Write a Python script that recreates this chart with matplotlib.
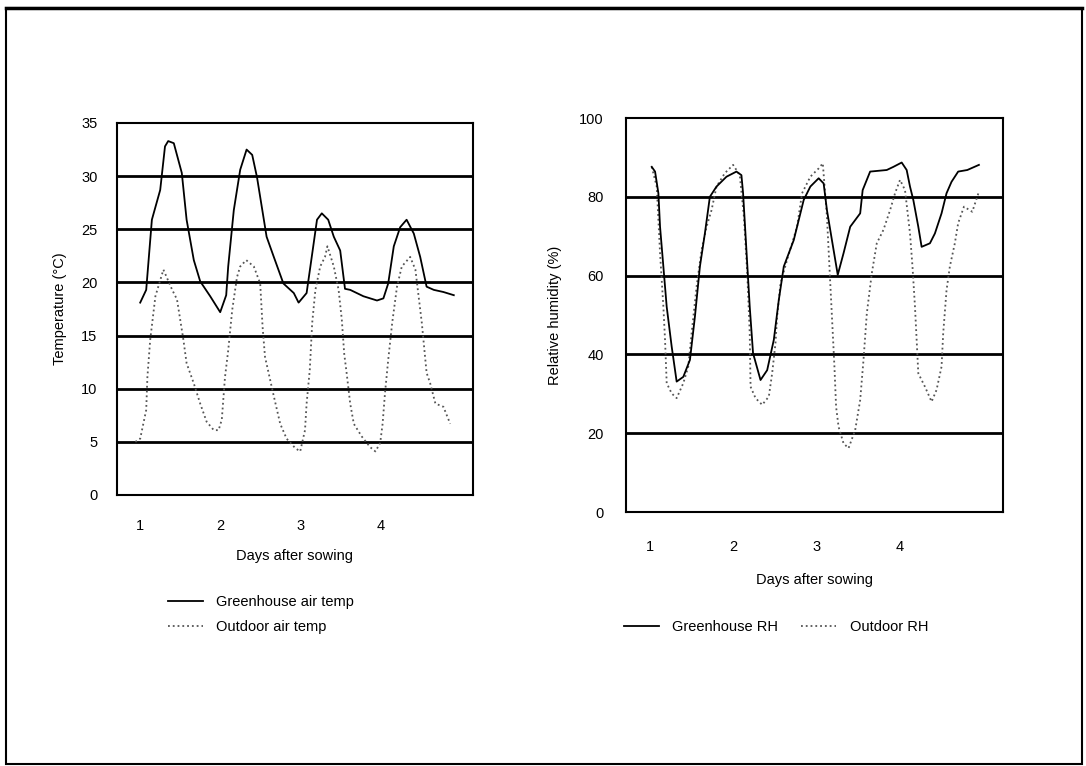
import matplotlib
matplotlib.use('Agg')
import matplotlib.pyplot as plt
from matplotlib.patches import Rectangle

plt.rcParams['font.family'] = ['Liberation Sans', 'DejaVu Sans']

# Temperatura (dias apos semeadura, graus C)
dia_temp_estufa = [1.0, 1.075, 1.146, 1.25, 1.31, 1.35, 1.42, 1.52, 1.58, 1.67, 1.75, 1.875,
                   2.0, 2.075, 2.10, 2.17, 2.25, 2.33, 2.40, 2.46, 2.58, 2.67, 2.79, 2.92, 2.98,
                   3.08, 3.15, 3.21, 3.27, 3.35, 3.42, 3.5, 3.56, 3.625, 3.79, 3.96,
                   4.04, 4.10, 4.17, 4.25, 4.33, 4.42, 4.5, 4.58, 4.67, 4.79, 4.92]
temp_estufa = [18.1, 19.3, 25.9, 28.7, 32.8, 33.3, 33.1, 30.3, 25.9, 22.1, 20.1, 18.7,
               17.2, 18.8, 21.5, 26.8, 30.6, 32.5, 32.0, 29.9, 24.3, 22.4, 19.9, 19.0, 18.1,
               19.0, 22.7, 25.9, 26.5, 25.9, 24.3, 23.0, 19.4, 19.3, 18.7, 18.3,
               18.5, 19.9, 23.4, 25.2, 25.9, 24.6, 22.4, 19.6, 19.3, 19.1, 18.8]

dia_temp_fora = [0.94, 1.0, 1.075, 1.09, 1.125, 1.19, 1.29, 1.40, 1.46, 1.5, 1.54, 1.58, 1.67,
                 1.75, 1.83, 1.92, 1.98, 2.02, 2.06, 2.10, 2.15, 2.21, 2.25, 2.325, 2.42, 2.5,
                 2.53, 2.56, 2.67, 2.75, 2.83, 2.94, 3.0, 3.06, 3.08, 3.12, 3.15, 3.19, 3.25,
                 3.31, 3.34, 3.42, 3.48, 3.52, 3.55, 3.58, 3.625, 3.67, 3.77, 3.875, 3.94,
                 4.0, 4.03, 4.06, 4.10, 4.15, 4.21, 4.27, 4.375, 4.44, 4.52, 4.58, 4.625,
                 4.69, 4.79, 4.875]
temp_fora = [5.0, 5.3, 8.0, 11.1, 14.6, 18.7, 21.2, 19.3, 18.4, 16.5, 14.6, 12.4, 10.5,
             8.6, 6.9, 6.1, 6.1, 7.1, 11.1, 13.6, 17.4, 20.5, 21.5, 22.1, 21.5, 19.9,
             15.8, 13.0, 9.3, 6.7, 5.3, 4.4, 4.1, 6.1, 8.6, 11.8, 16.2, 19.3, 21.5,
             22.4, 23.4, 21.5, 19.3, 16.5, 13.3, 11.5, 8.6, 6.7, 5.5, 4.5, 4.1,
             4.9, 6.7, 9.6, 12.7, 16.2, 19.6, 21.5, 22.4, 21.2, 16.2, 11.5, 10.5,
             8.6, 8.3, 6.7]

# Umidade relativa (%)
dia_ur_estufa = [1.02, 1.06, 1.10, 1.12, 1.16, 1.20, 1.26, 1.32, 1.40, 1.48, 1.54, 1.60, 1.66,
                 1.72, 1.80, 1.92, 2.04, 2.10, 2.12, 2.16, 2.20, 2.24, 2.33, 2.41, 2.49, 2.55,
                 2.61, 2.73, 2.85, 2.93, 3.03, 3.09, 3.13, 3.19, 3.26, 3.33, 3.41, 3.53, 3.56,
                 3.65, 3.85, 3.93, 4.03, 4.09, 4.13, 4.17, 4.23, 4.27, 4.37, 4.43, 4.51, 4.57,
                 4.63, 4.71, 4.82, 4.96]
ur_estufa = [87.6, 86.4, 80.9, 72.4, 62.3, 52.1, 42.0, 33.1, 34.3, 38.6, 49.6, 62.3, 70.7,
             80.0, 82.6, 85.1, 86.4, 85.5, 80.9, 66.5, 52.1, 40.3, 33.5, 36.0, 43.7, 53.8,
             62.3, 69.0, 79.2, 82.6, 84.7, 83.4, 76.6, 69.0, 60.2, 65.7, 72.4, 75.8, 81.7,
             86.4, 86.8, 87.6, 88.7, 86.8, 82.6, 79.2, 72.4, 67.3, 68.2, 70.7, 75.8, 80.9,
             83.8, 86.4, 86.8, 88.1]

dia_ur_fora = [1.02, 1.08, 1.12, 1.16, 1.18, 1.20, 1.26, 1.32, 1.40, 1.46, 1.50, 1.56, 1.62,
               1.68, 1.74, 1.80, 1.90, 2.00, 2.08, 2.13, 2.17, 2.20, 2.21, 2.27, 2.35, 2.43,
               2.47, 2.51, 2.53, 2.57, 2.65, 2.77, 2.83, 2.93, 3.03, 3.08, 3.13, 3.17, 3.20,
               3.22, 3.24, 3.27, 3.33, 3.39, 3.47, 3.53, 3.57, 3.61, 3.67, 3.73, 3.81, 3.89,
               3.95, 4.01, 4.07, 4.13, 4.16, 4.19, 4.21, 4.23, 4.31, 4.39, 4.45, 4.51, 4.53,
               4.57, 4.61, 4.67, 4.71, 4.78, 4.88, 4.96]
ur_fora = [87.6, 82.6, 65.7, 52.1, 43.7, 32.7, 30.1, 28.9, 32.7, 36.9, 45.4, 57.2, 66.5,
           72.4, 76.6, 82.6, 86.0, 88.1, 85.5, 74.9, 60.6, 45.4, 31.8, 28.9, 27.2, 29.3,
           35.2, 42.8, 49.6, 58.0, 64.0, 72.4, 80.9, 85.1, 87.2, 88.5, 74.9, 58.0, 45.4,
           36.9, 26.7, 21.6, 17.4, 16.2, 20.8, 28.4, 38.6, 50.4, 60.6, 68.2, 71.6, 76.6,
           80.9, 84.3, 81.7, 70.7, 62.3, 52.1, 43.7, 35.2, 31.8, 28.0, 31.0, 36.9, 45.4,
           56.3, 62.3, 68.2, 73.3, 77.5, 76.2, 81.3]

dias = [1, 2, 3, 4]
grade_temp = [5, 10, 15, 20, 25, 30]
grade_ur = [20, 40, 60, 80]

fig = plt.figure(figsize=(10.86, 7.66), dpi=100)
fig.patch.set_facecolor('white')

# moldura externa da figura
fig.add_artist(Rectangle((6 / 1086, 2 / 766), 1076 / 1086, 756 / 766, transform=fig.transFigure,
                         fill=False, edgecolor='black', linewidth=1.5))
fig.add_artist(plt.Line2D([6 / 1086, 1082 / 1086], [758 / 766, 758 / 766], transform=fig.transFigure,
                          color='black', linewidth=2.5))

# --- grafico de temperatura ---
ax1 = fig.add_axes([117 / 1086, 1 - 495 / 766, 356 / 1086, 372 / 766])
for g in grade_temp:
    ax1.axhline(g, color='black', linewidth=2, zorder=1)
ax1.plot(dia_temp_estufa, temp_estufa, color='black', linewidth=1.3, label='Greenhouse air temp', zorder=3)
ax1.plot(dia_temp_fora, temp_fora, color='#555555', linestyle=':', linewidth=1.3, label='Outdoor air temp', zorder=2)
ax1.set_xlim(0.71, 5.16)
ax1.set_ylim(0, 35)
ax1.set_xticks(dias)
ax1.set_yticks([0, 5, 10, 15, 20, 25, 30, 35])
ax1.tick_params(length=0, labelsize=10.5)
ax1.tick_params(axis='x', pad=17)
ax1.tick_params(axis='y', pad=14)
ax1.set_xlabel('Days after sowing', fontsize=10.5, labelpad=12)
ax1.set_ylabel('Temperature (°C)', fontsize=10.5, labelpad=10)
for s in ax1.spines.values():
    s.set_linewidth(1.5)
ax1.legend(loc='upper left', bbox_to_anchor=(168 / 1086, 1 - 595 / 766), bbox_transform=fig.transFigure,
           frameon=False, fontsize=10.5, handlelength=2.4, handletextpad=0.9, labelspacing=0.75,
           borderpad=0, borderaxespad=0)

# --- grafico de umidade relativa ---
ax2 = fig.add_axes([626 / 1086, 1 - 512 / 766, 377 / 1086, 394 / 766])
for g in grade_ur:
    ax2.axhline(g, color='black', linewidth=2, zorder=1)
ax2.plot(dia_ur_estufa, ur_estufa, color='black', linewidth=1.3, label='Greenhouse RH', zorder=3)
ax2.plot(dia_ur_fora, ur_fora, color='#555555', linestyle=':', linewidth=1.3, label='Outdoor RH', zorder=2)
ax2.set_xlim(0.71, 5.25)
ax2.set_ylim(0, 100)
ax2.set_xticks(dias)
ax2.set_yticks([0, 20, 40, 60, 80, 100])
ax2.tick_params(length=0, labelsize=10.5)
ax2.tick_params(axis='x', pad=20)
ax2.tick_params(axis='y', pad=16)
ax2.set_xlabel('Days after sowing', fontsize=10.5, labelpad=14)
ax2.set_ylabel('Relative humidity (%)', fontsize=10.5, labelpad=12)
for s in ax2.spines.values():
    s.set_linewidth(1.5)
ax2.legend(loc='upper left', bbox_to_anchor=(624 / 1086, 1 - 620 / 766), bbox_transform=fig.transFigure,
           frameon=False, fontsize=10.5, ncol=2, handlelength=2.4, handletextpad=0.9, columnspacing=1.6,
           borderpad=0, borderaxespad=0)

fig.savefig('out.png', dpi=100)
